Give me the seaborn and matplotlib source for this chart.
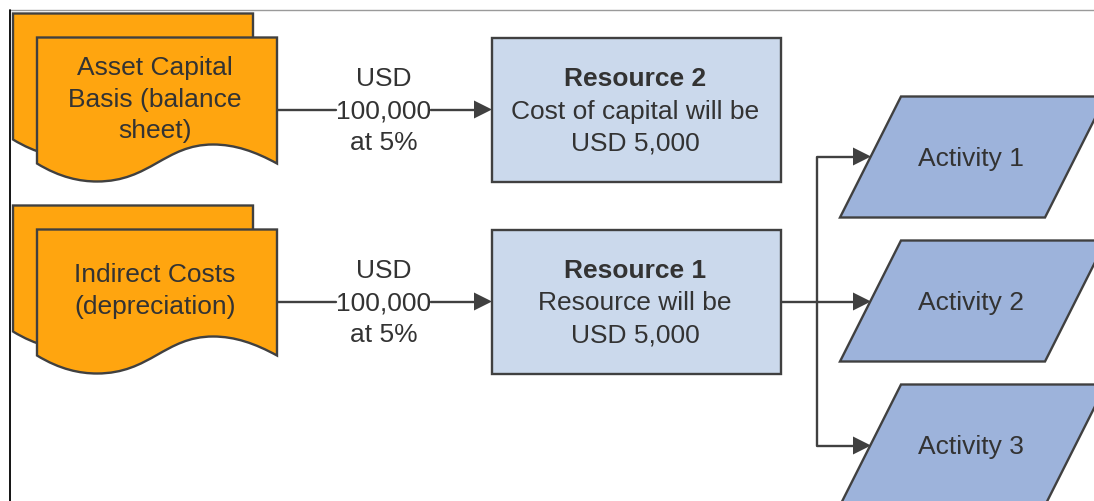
# Flow diagram: cost inputs -> resources -> activities
import matplotlib.pyplot as plt
import seaborn as sns
from matplotlib.patches import PathPatch, Polygon, Rectangle
from matplotlib.path import Path

# Text of the diagram
doc_labels = [["Asset Capital", "Basis (balance", "sheet)"],
              ["Indirect Costs", "(depreciation)"]]
amount_lines = ["USD", "100,000", "at 5%"]
resource_titles = ["Resource 2", "Resource 1"]
resource_lines = [["Cost of capital will be", "USD 5,000"],
                  ["Resource will be", "USD 5,000"]]
activities = ["Activity 1", "Activity 2", "Activity 3"]

# Layout in image pixels
row_tops = [38, 230]
doc_text_y = [74, 282]
activity_tops = [97, 241, 385]
activity_arrow_y = [157, 302, 446]

EDGE = "#404040"
TEXT = "#333333"
ORANGE = "#FFA50F"
PALE_BLUE = "#CBD9EC"
BLUE = "#9DB3DB"
LW = 1.7
FS = 19

sns.set_theme(style="white")
plt.rcParams["font.family"] = ["Liberation Sans", "DejaVu Sans"]

fig = plt.figure(figsize=(10.94, 5.02), dpi=100)
ax = fig.add_axes([0, 0, 1, 1])
ax.set_xlim(0, 1094)
ax.set_ylim(501.5, -0.5)
ax.axis("off")


def draw_line(xs, ys, color=EDGE, lw=LW, z=1):
    sns.lineplot(x=xs, y=ys, sort=False, estimator=None, color=color, lw=lw, zorder=z, ax=ax)


def draw_doc(x, top):
    # wavy bottom document shape, 240 wide
    verts = [(x, top), (x + 240, top), (x + 240, top + 126),
             (x + 218, top + 114), (x + 198, top + 107), (x + 176, top + 107),
             (x + 128, top + 107), (x + 113, top + 144), (x + 60, top + 144),
             (x + 43, top + 144), (x + 23, top + 140), (x, top + 126), (x, top)]
    codes = [Path.MOVETO, Path.LINETO, Path.LINETO] + [Path.CURVE4] * 9 + [Path.CLOSEPOLY]
    ax.add_patch(PathPatch(Path(verts, codes), fc=ORANGE, ec=EDGE, lw=LW, joinstyle="miter", zorder=3))


def arrow_head(tip_x, y):
    ax.add_patch(Polygon([(tip_x, y), (tip_x - 18, y - 9), (tip_x - 18, y + 9)],
                         fc=EDGE, ec="none", zorder=2))


def put_text(x, y, line, **kw):
    ax.text(x, y, line, ha="center", va="baseline", fontsize=FS, color=TEXT, zorder=5, **kw)


# page frame
draw_line([10, 1094], [10.5, 10.5], color="#9a9a9a", lw=1)
draw_line([9.5, 9.5], [10, 502], color="black", lw=1.3)

for i, top in enumerate(row_tops):
    draw_doc(13, top - 24)
    draw_doc(37, top)
    for j, line in enumerate(doc_labels[i]):
        put_text(155, doc_text_y[i] + 32 * j, line)

    # amount arrow with the label sitting on it
    mid_y = top + 72
    draw_line([277, 336], [mid_y, mid_y])
    draw_line([431, 476], [mid_y, mid_y])
    arrow_head(492, mid_y)
    for j, line in enumerate(amount_lines):
        put_text(384, top + 48 + 32 * j, line)

    ax.add_patch(Rectangle((492, top), 289, 144, fc=PALE_BLUE, ec=EDGE, lw=LW, zorder=3))
    put_text(635, top + 48, resource_titles[i], fontweight="bold")
    for j, line in enumerate(resource_lines[i]):
        put_text(635, top + 80 + 32 * j, line)

# connectors to the activities
draw_line([781, 855], [302, 302])
draw_line([855, 817, 817, 855], [activity_arrow_y[0], activity_arrow_y[0],
                                 activity_arrow_y[2], activity_arrow_y[2]])

for name, top, arrow_y in zip(activities, activity_tops, activity_arrow_y):
    arrow_head(871, arrow_y)
    ax.add_patch(Polygon([(901, top), (1106, top), (1045, top + 121), (840, top + 121)],
                         fc=BLUE, ec=EDGE, lw=LW, joinstyle="miter", zorder=3))
    put_text(971, top + 69, name)

fig.savefig("out.png", dpi=100)
